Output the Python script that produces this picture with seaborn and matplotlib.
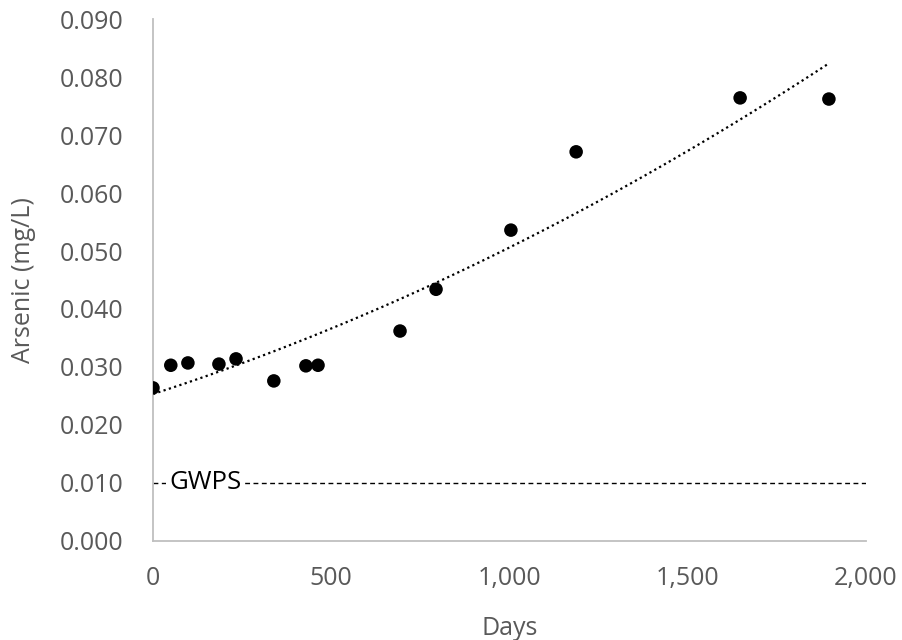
import numpy as np
import pandas as pd
import seaborn as sns
import matplotlib.pyplot as plt
from matplotlib.ticker import FuncFormatter

# data
days = [0, 50, 98, 185, 233, 339, 429, 463, 693, 794, 1004, 1187, 1647, 1896]
arsenic = [0.0264, 0.0303, 0.0307, 0.0305, 0.0314, 0.0276, 0.0302, 0.0303,
           0.0362, 0.0434, 0.0536, 0.0671, 0.0764, 0.0762]
gwps = 0.010

df = pd.DataFrame({'Days': days, 'Arsenic': arsenic})

sns.set_style('white')
plt.rcParams['font.family'] = ['Open Sans', 'DejaVu Sans']

fig = plt.figure(figsize=(9.03, 6.4), dpi=100)
ax = fig.add_axes([0.1694, 0.1547, 0.7896, 0.8156])

# quadratic trendline (dotted)
sns.regplot(data=df, x='Days', y='Arsenic', order=2, ci=None, scatter=False,
            ax=ax, line_kws={'color': 'black', 'linestyle': (0, (1, 1.5)), 'linewidth': 1.6})
sns.scatterplot(data=df, x='Days', y='Arsenic', ax=ax, color='black', s=95,
                edgecolor='none', zorder=3)

# GWPS line
ax.axhline(gwps, color='black', linestyle=(0, (3.5, 2.5)), linewidth=1)
ax.text(146, gwps, 'GWPS', fontsize=18.5, va='center', ha='center', color='black',
        bbox=dict(facecolor='white', edgecolor='none', pad=2))

ax.set_xlim(0, 2000)
ax.set_ylim(0, 0.090)
ax.set_xticks([0, 500, 1000, 1500, 2000])
ax.set_yticks(np.arange(0, 0.0901, 0.010))
ax.xaxis.set_major_formatter(FuncFormatter(lambda v, p: f'{v:,.0f}'))
ax.yaxis.set_major_formatter(FuncFormatter(lambda v, p: f'{v:.3f}'))
ax.tick_params(axis='both', labelsize=18, labelcolor='#595959', length=0)
ax.tick_params(axis='y', pad=21)
ax.tick_params(axis='x', pad=18)

for side in ['top', 'right']:
    ax.spines[side].set_visible(False)
for side in ['left', 'bottom']:
    ax.spines[side].set_color('#bfbfbf')
    ax.spines[side].set_linewidth(1.3)

ax.set_xlabel('Days', fontsize=18, color='#595959', labelpad=18)
ax.set_ylabel('Arsenic (mg/L)', fontsize=18, color='#595959', labelpad=17)

fig.savefig('out.png', dpi=100)
